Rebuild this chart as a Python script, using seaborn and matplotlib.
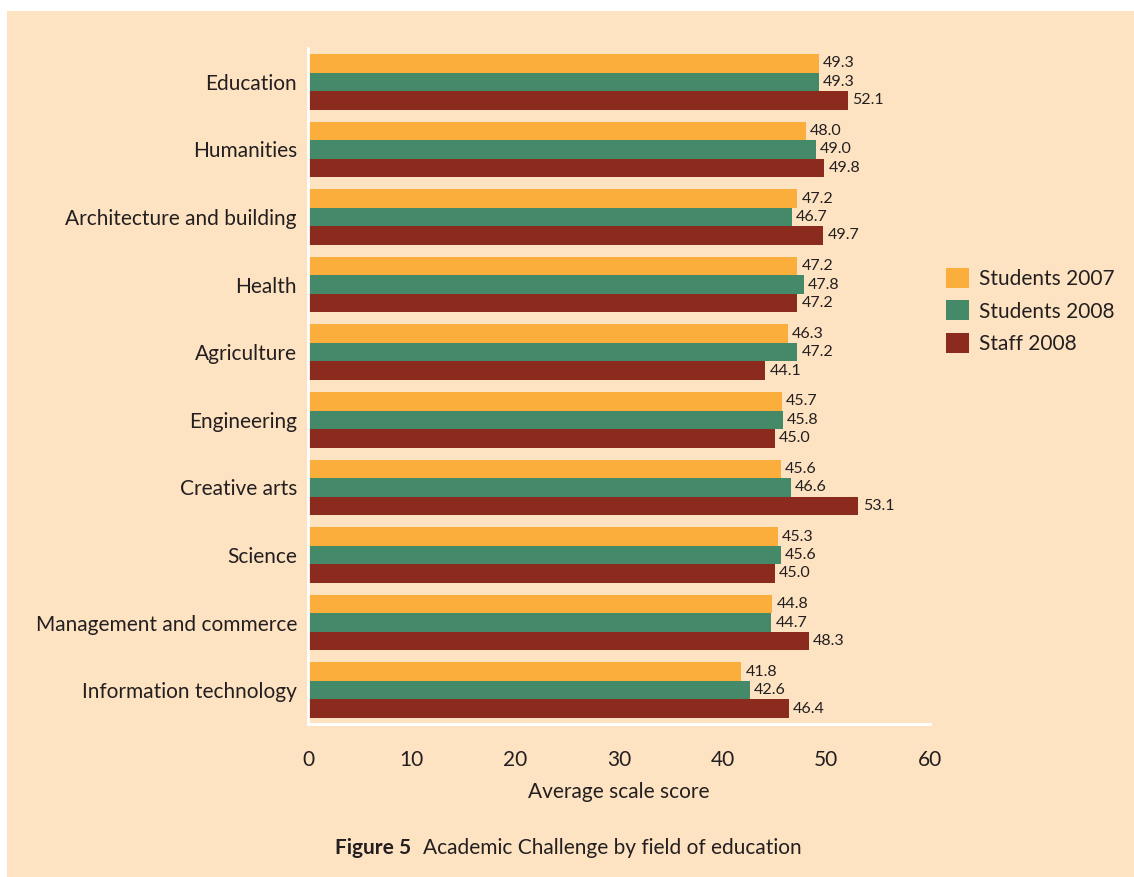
import matplotlib
matplotlib.use('Agg')
from matplotlib import pyplot as plt
from matplotlib.patches import Rectangle, Patch
import pandas as pd
import seaborn as sns

# Chart data
fields = ['Education', 'Humanities', 'Architecture and building', 'Health',
          'Agriculture', 'Engineering', 'Creative arts', 'Science',
          'Management and commerce', 'Information technology']
students_2007 = [49.3, 48.0, 47.2, 47.2, 46.3, 45.7, 45.6, 45.3, 44.8, 41.8]
students_2008 = [49.3, 49.0, 46.7, 47.8, 47.2, 45.8, 46.6, 45.6, 44.7, 42.6]
staff_2008 = [52.1, 49.8, 49.7, 47.2, 44.1, 45.0, 53.1, 45.0, 48.3, 46.4]
groups = ['Students 2007', 'Students 2008', 'Staff 2008']
x_ticks = [0, 10, 20, 30, 40, 50, 60]

colors = ['#FBAE3B', '#458A68', '#8B2B1E']
BG = '#FEE3C2'
TXT = '#231F20'

df = pd.concat([
    pd.DataFrame({'field': fields, 'score': vals, 'group': g})
    for g, vals in zip(groups, [students_2007, students_2008, staff_2008])
])

sns.set_style('white')
plt.rcParams['font.family'] = ['Lato', 'DejaVu Sans']
plt.rcParams['text.color'] = TXT

fig = plt.figure(figsize=(11.34, 8.77), dpi=100, facecolor='white')
# peach panel with thin white margin at top/left
fig.patches.append(Rectangle((7 / 1134, 0), 1, 1 - 11 / 877,
                             transform=fig.transFigure, facecolor=BG,
                             edgecolor='none', zorder=-10))

ax = fig.add_axes([308 / 1134, 1 - 724 / 877, 622 / 1134, 676 / 877])
ax.set_facecolor(BG)
ax.patch.set_alpha(0)

sns.barplot(data=df, y='field', x='score', hue='group', orient='h',
            palette=colors, width=0.82, gap=0, saturation=1,
            edgecolor='none', linewidth=0, ax=ax, legend=False)

for cont in ax.containers:
    ax.bar_label(cont, fmt='%.1f', padding=3, fontsize=11.5, color=TXT)

ax.set_xlim(0, 60)
ax.set_ylim(9.5, -0.5)
ax.set_xticks(x_ticks)
ax.tick_params(axis='x', direction='in', length=5, width=2, color='white',
               pad=19, labelsize=15, labelcolor=TXT)
ax.tick_params(axis='y', length=0, pad=8, labelsize=15, labelcolor=TXT)
ax.set_xlabel('Average scale score', fontsize=15, color=TXT, labelpad=8)
ax.set_ylabel('')

for side in ['top', 'right']:
    ax.spines[side].set_visible(False)
for side in ['left', 'bottom']:
    ax.spines[side].set_color('white')
    ax.spines[side].set_linewidth(2)

handles = [Patch(facecolor=c, edgecolor='none') for c in colors]
fig.legend(handles, groups, loc='center left',
           bbox_to_anchor=(927 / 1134, 1 - 311 / 877), frameon=False,
           fontsize=15, handlelength=1.1, handleheight=1.1,
           labelspacing=0.55, handletextpad=0.5)

fig.text(335 / 1134, 1 - 848 / 877, 'Figure 5', ha='left', va='center',
         fontsize=15, fontweight='bold', color=TXT)
fig.text(423 / 1134, 1 - 848 / 877, 'Academic Challenge by field of education',
         ha='left', va='center', fontsize=15, color=TXT)

fig.savefig('out.png', dpi=100, facecolor=fig.get_facecolor())
